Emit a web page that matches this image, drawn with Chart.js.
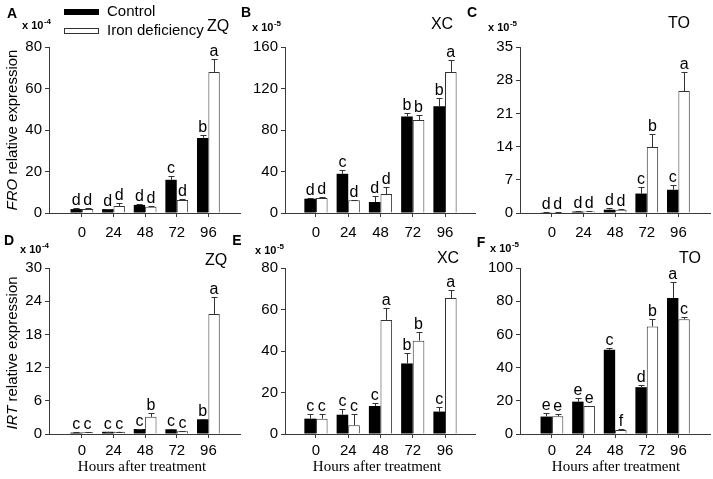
<!DOCTYPE html>
<html><head><meta charset="utf-8">
<script src="https://cdn.jsdelivr.net/npm/chart.js@4.4.1/dist/chart.umd.min.js"></script>
<style>
html,body{margin:0;padding:0;background:#fff;}
#wrap{position:relative;width:713px;height:479px;overflow:hidden;background:#fff;}
canvas{position:absolute;left:0;top:0;}
</style></head><body><div id="wrap">
<canvas id="c0" width="713" height="479"></canvas>
<canvas id="c1" width="713" height="479"></canvas>
<canvas id="c2" width="713" height="479"></canvas>
<canvas id="c3" width="713" height="479"></canvas>
<canvas id="c4" width="713" height="479"></canvas>
<canvas id="c5" width="713" height="479"></canvas>
</div>
<script>
// ---------- DATA ----------
const categories = ['0', '24', '48', '72', '96'];
const seriesNames = ['Control', 'Iron deficiency'];
const panelLetters = ['A', 'B', 'C', 'D', 'E', 'F'];
const cultivars = ['ZQ', 'XC', 'TO', 'ZQ', 'XC', 'TO'];
const scaleExponents = ['-4', '-5', '-5', '-4', '-5', '-5'];
const yMaxValues = [80, 160, 35, 30, 80, 100];
const yStepValues = [20, 40, 7, 6, 20, 20];
const geneNames = ['FRO', 'IRT'];
const yTitleRest = ' relative expression';
const xAxisTitle = 'Hours after treatment';

// A: FRO, ZQ (x10^-4)
const froZqControl = [1.9, 1.9, 3.9, 16.0, 36.2];
const froZqControlErr = [0.3, 0.2, 0.4, 1.9, 1.3];
const froZqIron = [1.9, 3.4, 3.0, 6.3, 68.0];
const froZqIronErr = [0.3, 1.2, 0.2, 0.6, 6.4];
const froZqControlLetters = ['d', 'd', 'd', 'c', 'b'];
const froZqIronLetters = ['d', 'd', 'd', 'd', 'a'];

// B: FRO, XC (x10^-5)
const froXcControl = [13.8, 37.8, 10.6, 93.0, 103.0];
const froXcControlErr = [0.5, 3.8, 5.4, 3.8, 7.4];
const froXcIron = [14.4, 12.2, 18.2, 89.6, 136.0];
const froXcIronErr = [1.0, 0.5, 6.7, 4.5, 11.8];
const froXcControlLetters = ['d', 'c', 'd', 'b', 'b'];
const froXcIronLetters = ['d', 'd', 'd', 'b', 'a'];

// C: FRO, TO (x10^-5)
const froToControl = [0.15, 0.3, 0.7, 4.1, 4.9];
const froToControlErr = [0.05, 0.05, 0.3, 1.3, 0.9];
const froToIron = [0.15, 0.3, 0.7, 13.9, 25.7];
const froToIronErr = [0.05, 0.05, 0.05, 2.7, 4.0];
const froToControlLetters = ['d', 'd', 'd', 'c', 'c'];
const froToIronLetters = ['d', 'd', 'd', 'b', 'a'];

// D: IRT, ZQ (x10^-4)
const irtZqControl = [0.25, 0.4, 0.9, 0.85, 2.65];
const irtZqControlErr = [0.05, 0.05, 0.05, 0.05, 0.05];
const irtZqIron = [0.3, 0.4, 3.1, 0.5, 21.7];
const irtZqIronErr = [0.05, 0.05, 0.7, 0.05, 3.0];
const irtZqControlLetters = ['c', 'c', 'c', 'c', 'b'];
const irtZqIronLetters = ['c', 'c', 'b', 'c', 'a'];

// E: IRT, XC (x10^-5)
const irtXcControl = [7.4, 9.3, 13.5, 34.0, 10.8];
const irtXcControlErr = [2.3, 2.6, 1.3, 4.8, 2.1];
const irtXcIron = [7.4, 4.2, 55.0, 45.0, 65.5];
const irtXcIronErr = [2.3, 5.5, 5.6, 4.2, 4.0];
const irtXcControlLetters = ['c', 'c', 'c', 'b', 'c'];
const irtXcIronLetters = ['c', 'c', 'a', 'b', 'a'];

// F: IRT, TO (x10^-5)
const irtToControl = [10.5, 19.5, 50.7, 28.2, 81.9];
const irtToControlErr = [2.0, 2.2, 1.2, 1.6, 9.7];
const irtToIron = [10.7, 16.9, 2.4, 64.8, 69.2];
const irtToIronErr = [1.4, 0.2, 0.6, 4.4, 1.2];
const irtToControlLetters = ['e', 'e', 'c', 'd', 'a'];
const irtToIronLetters = ['e', 'e', 'f', 'b', 'c'];

const panelSeries = [
  [froZqControl, froZqControlErr, froZqControlLetters, froZqIron, froZqIronErr, froZqIronLetters],
  [froXcControl, froXcControlErr, froXcControlLetters, froXcIron, froXcIronErr, froXcIronLetters],
  [froToControl, froToControlErr, froToControlLetters, froToIron, froToIronErr, froToIronLetters],
  [irtZqControl, irtZqControlErr, irtZqControlLetters, irtZqIron, irtZqIronErr, irtZqIronLetters],
  [irtXcControl, irtXcControlErr, irtXcControlLetters, irtXcIron, irtXcIronErr, irtXcIronLetters],
  [irtToControl, irtToControlErr, irtToControlLetters, irtToIron, irtToIronErr, irtToIronLetters]
];

// ---------- LAYOUT / STYLE ----------
const W = 713, H = 479;
const SANS = '"Liberation Sans", Arial, sans-serif';
const SERIF = '"Liberation Serif", "Times New Roman", serif';
const AXIS = '#3a3a3a';
const Y_W = 45, X_H = 30;
const colLayout = [
  {left: 49, right: 240, xmin: -1.04, xmax: 5.0},
  {left: 285, right: 475, xmin: -0.96, xmax: 4.93},
  {left: 520, right: 710, xmin: -1.01, xmax: 5.0}
];
const rowLayout = [{top: 47, bottom: 213}, {top: 268, bottom: 434}];
const decoPos = [
  {letter: [12, 14], exp: [22, 29], cult: [218, 27]},
  {letter: [246, 13], exp: [252, 31], cult: [442, 25]},
  {letter: [472, 13], exp: [488, 31], cult: [679, 24]},
  {letter: [9, 241], exp: [20, 253], cult: [216, 261]},
  {letter: [237, 241], exp: [255, 254], cult: [448, 259]},
  {letter: [481, 243], exp: [490, 252], cult: [690, 259]}
];
const yTitlePos = [[13, 130], [13, 353]];
const xTitlePos = [[142, 467], [377, 467], [616, 467]];

function drawDeco(chart, pi) {
  const ctx = chart.ctx;
  const ys = chart.scales.y;
  const pos = decoPos[pi];
  ctx.save();
  // error bars and significance letters
  chart.data.datasets.forEach((ds, di) => {
    const meta = chart.getDatasetMeta(di);
    meta.data.forEach((bar, i) => {
      const v = ds.data[i].y;
      const e = ds.errors[i];
      const yTop = Math.round(ys.getPixelForValue(v + e)) + 0.5;
      const x = Math.round(bar.x) + 0.5;
      ctx.strokeStyle = '#333';
      ctx.lineWidth = 1;
      ctx.beginPath();
      ctx.moveTo(x, bar.y);
      ctx.lineTo(x, yTop);
      ctx.moveTo(x - 3, yTop);
      ctx.lineTo(x + 3, yTop);
      ctx.stroke();
      ctx.fillStyle = '#000';
      ctx.font = '16px ' + SANS;
      ctx.textAlign = 'center';
      ctx.textBaseline = 'alphabetic';
      ctx.fillText(ds.sigLetters[i], bar.x, yTop - 4);
    });
  });
  // panel letter
  ctx.fillStyle = '#000';
  ctx.font = 'bold 14px ' + SANS;
  ctx.textAlign = 'center';
  ctx.textBaseline = 'middle';
  ctx.fillText(panelLetters[pi], pos.letter[0], pos.letter[1]);
  // scale factor x 10^-n
  ctx.textAlign = 'left';
  ctx.textBaseline = 'alphabetic';
  ctx.font = 'bold 11px ' + SANS;
  const base = 'x 10';
  ctx.fillText(base, pos.exp[0], pos.exp[1]);
  const bw = ctx.measureText(base).width;
  ctx.font = 'bold 8px ' + SANS;
  ctx.fillText(scaleExponents[pi], pos.exp[0] + bw + 0.5, pos.exp[1] - 5);
  // cultivar
  ctx.font = '16px ' + SANS;
  ctx.textAlign = 'center';
  ctx.textBaseline = 'middle';
  ctx.fillText(cultivars[pi], pos.cult[0], pos.cult[1]);
  const row = Math.floor(pi / 3), col = pi % 3;
  // y axis title
  if (col === 0) {
    ctx.save();
    ctx.translate(yTitlePos[row][0], yTitlePos[row][1]);
    ctx.rotate(-Math.PI / 2);
    const g = geneNames[row];
    ctx.font = 'italic 15px ' + SANS;
    const gw = ctx.measureText(g).width;
    ctx.font = '15px ' + SANS;
    const rw = ctx.measureText(yTitleRest).width;
    const start = -(gw + rw) / 2;
    ctx.textAlign = 'left';
    ctx.font = 'italic 15px ' + SANS;
    ctx.fillText(g, start, 0);
    ctx.font = '15px ' + SANS;
    ctx.fillText(yTitleRest, start + gw, 0);
    ctx.restore();
  }
  // x axis title
  if (row === 1) {
    ctx.font = '15px ' + SERIF;
    ctx.textAlign = 'center';
    ctx.textBaseline = 'middle';
    ctx.fillText(xAxisTitle, xTitlePos[col][0], xTitlePos[col][1]);
  }
  // legend
  if (pi === 0) {
    ctx.fillStyle = '#000';
    ctx.fillRect(64, 9, 35, 6);
    ctx.fillStyle = '#fff';
    ctx.strokeStyle = '#333';
    ctx.fillRect(64, 28, 35, 6);
    ctx.strokeRect(64.5, 28.5, 34, 5);
    ctx.fillStyle = '#000';
    ctx.font = '15px ' + SANS;
    ctx.textAlign = 'left';
    ctx.textBaseline = 'middle';
    ctx.fillText(seriesNames[0], 107, 12);
    ctx.fillText(seriesNames[1], 107, 31);
  }
  ctx.restore();
}

for (let pi = 0; pi < 6; pi++) {
  const row = Math.floor(pi / 3), col = pi % 3;
  const cl = colLayout[col], rl = rowLayout[row];
  const s = panelSeries[pi];
  const datasets = [
    {label: seriesNames[0], data: s[0].map((v, i) => ({x: i, y: v})), errors: s[1], sigLetters: s[2],
     backgroundColor: '#000', borderColor: '#000', borderWidth: 0},
    {label: seriesNames[1], data: s[3].map((v, i) => ({x: i, y: v})), errors: s[4], sigLetters: s[5],
     backgroundColor: '#fff', borderColor: '#333', borderWidth: 1}
  ];
  new Chart(document.getElementById('c' + pi), {
    type: 'bar',
    data: {datasets},
    options: {
      responsive: false,
      animation: false,
      events: [],
      layout: {padding: {left: cl.left - Y_W, right: W - cl.right, top: rl.top, bottom: H - rl.bottom - X_H}},
      datasets: {bar: {categoryPercentage: 0.72, barPercentage: 1.0}},
      plugins: {legend: {display: false}, tooltip: {enabled: false}},
      scales: {
        x: {
          type: 'linear', min: cl.xmin, max: cl.xmax, offset: false,
          afterBuildTicks: (sc) => { sc.ticks = categories.map((c, i) => ({value: i})); },
          afterFit: (sc) => { sc.height = X_H; },
          ticks: {callback: (v) => categories[v], color: '#000', font: {family: SANS, size: 15}, padding: row === 0 ? 7 : 4, autoSkip: false, maxRotation: 0},
          grid: {display: true, drawOnChartArea: false, drawTicks: true, tickLength: 4, color: AXIS, offset: false},
          border: {display: true, color: AXIS, width: 1}
        },
        y: {
          min: 0, max: yMaxValues[pi],
          afterFit: (sc) => { sc.width = Y_W; },
          ticks: {stepSize: yStepValues[pi], color: '#000', font: {family: SANS, size: 15}, padding: 3},
          grid: {display: true, drawOnChartArea: false, drawTicks: true, tickLength: 4, color: AXIS},
          border: {display: true, color: AXIS, width: 1}
        }
      }
    },
    plugins: [{id: 'deco' + pi, afterDatasetsDraw: (chart) => drawDeco(chart, pi)}]
  });
}
</script>
</body></html>
